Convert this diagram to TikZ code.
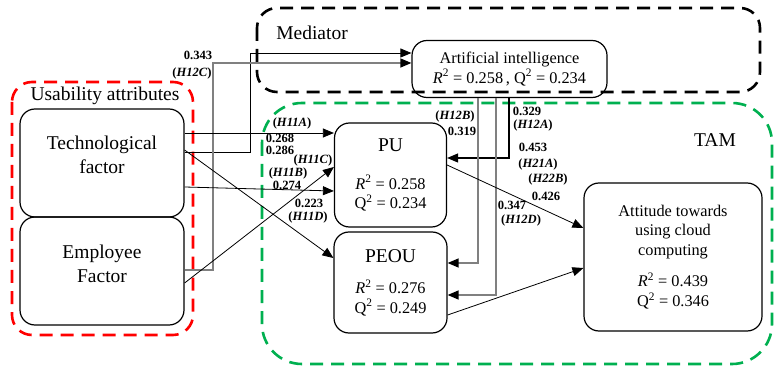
\documentclass[tikz,border=0pt]{standalone}
\usepackage{fontspec}
\setmainfont{Liberation Serif}
\usepackage{tikz}
\usetikzlibrary{arrows.meta,calc,positioning}
\definecolor{tamgreen}{RGB}{0,176,80}
\tikzset{%
        block/.style = { draw, line width=1.2pt, rounded corners=15pt, inner sep=0pt },
       bigtxt/.style = { font=\fontsize{19.5}{24}\selectfont, align=center },
       smltxt/.style = { font=\fontsize{16.3}{19.5}\selectfont, align=center },
          grp/.style = { line width=2.6pt, dash pattern=on 13pt off 8pt, rounded corners=20pt },
         link/.style = { line width=0.8pt, -{Triangle[length=11pt,width=9pt,color=black]} },
        glink/.style = { link, gray, line width=1.3pt },
         coef/.style = { font=\bfseries\fontsize{12.6}{13}\selectfont, inner sep=0pt }
}
\newcommand{\hyp}[1]{(\textit{#1})}
\newcommand{\rsq}[1]{\textit{R}\textsuperscript{2} = #1}
\newcommand{\qsq}[1]{Q\textsuperscript{2} = #1}

\begin{document}
\begin{tikzpicture}[x=1pt,y=-1pt]
\useasboundingbox (0,0) rectangle (774,366);
% dashed groups
\draw[grp,red] (12,82) rectangle (193,335);
\draw[grp,tamgreen,rounded corners=40pt] (262,103) rectangle (772,364);
\node[bigtxt] (usab) at (105,96) {Usability attributes};
\node[bigtxt] (med) at (312,33) {Mediator};
\node[bigtxt] (tam) at (715,140) {TAM};
% constructs
\node[block,minimum width=164pt,minimum height=108pt,
      label={[bigtxt,yshift=8pt]center:Technological\\factor}] (tech) at (102,163) {};
\node[block,minimum width=164pt,minimum height=108pt,
      label={[bigtxt,yshift=7pt]center:Employee\\Factor}] (emp) at (102,271) {};
\node[block,minimum width=195pt,minimum height=57pt,smltxt] (ai) at (509.5,69)
      {Artificial intelligence\\\rsq{0.258}\,, \qsq{0.234}};
\node[block,minimum width=112pt,minimum height=104pt,smltxt] (pu) at (390.5,175)
      {\fontsize{19.5}{24}\selectfont PU\\[18pt] \rsq{0.258}\\\qsq{0.234}};
\node[block,minimum width=113pt,minimum height=101pt,smltxt] (peou) at (390.5,282.5)
      {\fontsize{19.5}{24}\selectfont PEOU\\[12pt] \rsq{0.276}\\\qsq{0.249}};
\node[block,minimum width=178pt,minimum height=148pt,smltxt] (att) at (673,257)
      {Attitude towards\\using cloud\\computing\\[12pt] \rsq{0.439}\\\qsq{0.346}};
\draw[grp,black] (257,8) rectangle (760,92);
% paths to the mediator
\draw[link] (tech.east |- 0,152) -| (250,53) -- (ai.west |- 0,53);
\draw[glink] (emp.east |- 0,270) -| (213,63) -- (ai.west |- 0,63);
% usability -> TAM
\draw[link] (tech.east |- 0,133) -- (pu.west |- 0,133);
\draw[link] (tech.east |- 0,150) -- (peou.west |- 0,258);
\draw[link] (tech.east |- 0,187) -- (pu.west |- 0,191);
\draw[link] (emp.east |- 0,283) -- (pu.west |- 0,167);
% mediator -> TAM
\draw[link,line width=1.1pt] (ai.south -| 509,0) |- (pu.east |- 0,158);
\draw[glink] (ai.south -| 478,0) |- (peou.east |- 0,263);
\draw[glink] (ai.south -| 496,0) |- (peou.east |- 0,295);
\draw[link] (pu.east |- 0,165) -- (att.west |- 0,228);
\draw[link] (peou.east |- 0,315) -- (att.west |- 0,268);
% path coefficients
\node[coef] (c1) at (198,55) {0.343};
\node[coef] (c2) at (192,73) {\hyp{H12C}};
\node[coef] (c3) at (292,123) {\hyp{H11A}};
\node[coef] (c4) at (280,138) {0.268};
\node[coef] (c5) at (280,150.5) {0.286};
\node[coef] (c6) at (313,160) {\hyp{H11C}};
\node[coef] (c7) at (288,173) {\hyp{H11B}};
\node[coef] (c8) at (287,185) {0.274};
\node[coef] (c9) at (309,203) {0.223};
\node[coef] (c10) at (308,217) {\hyp{H11D}};
\node[coef] (c11) at (455,116) {\hyp{H12B}};
\node[coef] (c12) at (462,131) {0.319};
\node[coef] (c13) at (527,111) {0.329};
\node[coef] (c14) at (533,125) {\hyp{H12A}};
\node[coef] (c15) at (533,147) {0.453};
\node[coef] (c16) at (538,164) {\hyp{H21A}};
\node[coef] (c17) at (548,179) {\hyp{H22B}};
\node[coef] (c18) at (546,196) {0.426};
\node[coef] (c19) at (512,205.5) {0.347};
\node[coef] (c20) at (521,220) {\hyp{H12D}};
\end{tikzpicture}
\end{document}
